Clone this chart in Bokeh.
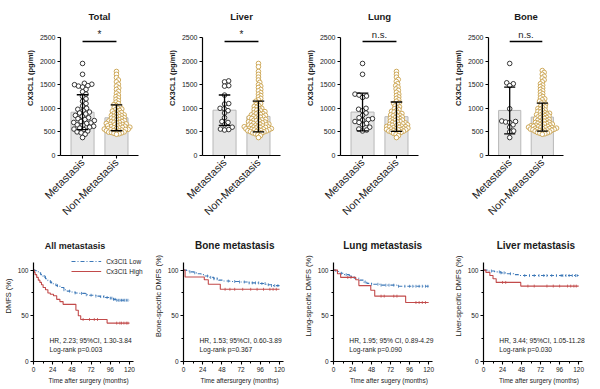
import math
import numpy as np
from bokeh.plotting import figure
from bokeh.models import FixedTicker, Range1d
from bokeh.layouts import row, column
from bokeh.core.properties import value
from bokeh.embed import file_html
from bokeh.resources import INLINE

FONT = "Liberation Sans"

# ------------------------------------------------------------------ data: top row
panel_titles = ["Total", "Liver", "Lung", "Bone"]
group_labels = ["Metastasis", "Non-Metastasis"]
conc_ticks = [0, 500, 1000, 1500, 2000, 2500]
signif = ["*", "*", "n.s.", "n.s."]
mean_met = [917, 960, 920, 955]
sd_met = [370, 322, 400, 495]
mean_non = [799, 827, 822, 814]
sd_non = [275, 327, 311, 297]

total_met = [1950, 1720, 1530, 1510, 1500, 1480, 1470, 1450, 1400, 1350, 1300, 1250, 1200,
             1150, 1100, 1050, 1000, 980, 950, 920, 900, 880, 850, 830, 800, 780, 760, 740,
             720, 700, 690, 680, 650, 640, 620, 600, 580, 560, 550, 520, 500, 480, 450, 380]
total_non = [1780, 1720, 1650, 1600, 1560, 1510, 1470, 1430, 1400, 1360, 1320, 1280, 1250,
             1220, 1190, 1160, 1130, 1100, 1080, 1060, 1040, 1020, 1000, 985, 970, 955, 940,
             925, 910, 895, 880, 870, 860, 850, 840, 830, 820, 810, 800, 790, 780, 770, 760,
             750, 740, 730, 720, 715, 705, 700, 690, 680, 670, 660, 655, 650, 640, 630, 625,
             620, 610, 600, 595, 590, 580, 575, 570, 560, 555, 550, 545, 540, 530, 525, 520,
             510, 500, 495, 490, 480, 470, 460, 450]
liver_met = [1580, 1560, 1480, 1470, 1280, 1100, 1090, 1000, 990, 950, 900, 800, 720, 700,
             650, 600, 560, 550, 540]
liver_non = [1950, 1880, 1780, 1720, 1660, 1600, 1550, 1500, 1470, 1440, 1400, 1370, 1330,
             1300, 1270, 1240, 1210, 1180, 1150, 1120, 1100, 1080, 1060, 1040, 1020, 1000,
             990, 975, 960, 945, 930, 915, 900, 890, 880, 870, 860, 850, 840, 830, 820, 810,
             800, 795, 785, 775, 765, 755, 745, 735, 725, 715, 710, 700, 690, 685, 675, 665,
             660, 650, 645, 640, 630, 625, 620, 610, 605, 600, 595, 590, 580, 575, 570, 565,
             560, 555, 550, 545, 540, 530, 525, 520, 510, 505, 500, 490, 480, 470, 460, 440,
             420, 380]
lung_met = [1950, 1720, 1300, 1280, 1260, 1230, 1000, 980, 950, 900, 850, 800, 780, 760,
            750, 720, 700, 680, 650, 600, 560, 540, 520]
lung_non = [1780, 1720, 1660, 1610, 1570, 1520, 1480, 1450, 1410, 1380, 1340, 1300, 1270,
            1240, 1210, 1180, 1150, 1120, 1100, 1080, 1050, 1030, 1010, 990, 970, 950, 935,
            920, 905, 890, 875, 860, 850, 840, 830, 815, 800, 790, 780, 770, 760, 750, 740,
            730, 720, 710, 700, 690, 680, 670, 660, 655, 650, 640, 630, 620, 615, 610, 600,
            595, 590, 580, 575, 570, 560, 555, 550, 545, 540, 530, 520, 515, 510, 500, 490,
            480, 470, 450, 420, 380]
bone_met = [1950, 1540, 1520, 1480, 990, 730, 720, 710, 700, 650, 600, 520, 500, 380]
bone_non = [1800, 1760, 1720, 1680, 1640, 1600, 1560, 1520, 1490, 1460, 1430, 1400, 1370,
            1340, 1310, 1280, 1250, 1220, 1200, 1180, 1150, 1130, 1110, 1090, 1070, 1050,
            1030, 1010, 995, 980, 965, 950, 935, 920, 905, 895, 885, 875, 865, 855, 845, 835,
            825, 815, 805, 795, 785, 775, 765, 755, 745, 735, 725, 715, 705, 700, 690, 680,
            675, 665, 660, 650, 645, 640, 630, 625, 620, 615, 610, 600, 595, 590, 585, 580,
            575, 570, 565, 560, 555, 550, 545, 540, 535, 530, 520, 515, 510, 500, 490, 480,
            470, 460, 450]

met_groups = [total_met, liver_met, lung_met, bone_met]
non_groups = [total_non, liver_non, lung_non, bone_non]

# ------------------------------------------------------------------ data: bottom row
km_titles = ["All metastasis", "Bone metastasis", "Lung metastasis", "Liver metastasis"]
km_ylabels = ["DMFS (%)", "Bone-specific DMFS (%)", "Lung-specific DMFS (%)",
              "Liver-specific DMFS (%)"]
km_xlabels = ["Time after surgery  (months)", "Time aftersurgery (months)",
              "Time after sugery (months)", "Time after surgery (months)"]
km_hr = ["HR, 2.23; 95%CI, 1.30-3.84", "HR, 1.53; 95%CI, 0.60-3.89",
         "HR, 1.95; 95% CI, 0.89-4.29", "HR, 3.44; 95%CI, 1.05-11.28"]
km_p = ["Log-rank p=0.003", "Log-rank p=0.367", "Log-rank p=0.090", "Log-rank p=0.030"]
series_names = ["Cx3Cl1 Low", "Cx3Cl1 High"]
followup_end = 120
month_ticks = [0, 24, 48, 72, 96, 120]
month_minor = [12, 36, 60, 84, 108]
pct_ticks = [0, 50, 100]
pct_minor = [25, 75]

all_low_t = [0, 2, 4, 6, 9, 12, 15, 18, 21, 24, 28, 33, 38, 42, 47, 52, 58, 65, 70, 78, 83, 90, 95, 100, 103]
all_low_s = [100, 99.3, 98.5, 97, 95, 93, 90.5, 88.5, 86.5, 85, 83, 81, 78.5, 77, 76, 75, 74.5, 73, 72.5, 71.5, 71, 70, 69.3, 68, 67]
all_low_c = [14, 22, 30, 38, 45, 52, 60, 66, 72, 78, 84, 88, 92, 96, 98, 100, 102, 104, 106, 108, 110, 112, 114, 116, 118]
all_high_t = [0, 1, 2, 4, 6, 8, 10, 12, 15, 18, 21, 25, 29, 33, 37, 53, 56, 59, 92]
all_high_s = [100, 97.5, 95, 92, 89, 86.5, 84, 81, 78.5, 75, 73.5, 72, 68, 65.5, 62.5, 56, 50, 46, 42]
all_high_c = [62, 70, 76, 80, 104, 108, 110, 113, 116, 118]

bone_low_t = [0, 4, 8, 13, 18, 22, 27, 33, 38, 44, 50, 58, 70, 82, 95, 103, 110]
bone_low_s = [100, 99, 98, 97, 96, 95, 93.5, 92, 90.5, 89, 88, 87.5, 87, 86, 85.3, 84, 83]
bone_low_c = [8, 14, 30, 34, 38, 42, 56, 64, 70, 76, 82, 86, 90, 94, 98, 102, 106, 110, 114, 118]
bone_high_t = [0, 2, 26, 31, 46]
bone_high_s = [100, 92.5, 89.5, 84.5, 79]
bone_high_c = [52, 58, 64, 74, 84, 92, 100, 108, 112, 116]

lung_low_t = [0, 3, 8, 14, 20, 26, 33, 38, 42, 48, 60, 80]
lung_low_s = [100, 98.5, 96.5, 95, 93, 91, 89, 87, 85.5, 84.5, 83.5, 82.3]
lung_low_c = [10, 16, 22, 40, 48, 56, 60, 66, 70, 76, 82, 90, 96, 100, 104, 108, 112, 116, 119]
lung_high_t = [0, 5, 9, 28, 32, 47, 52, 91]
lung_high_s = [100, 96, 92, 89.5, 83, 78, 71.5, 64.5]
lung_high_c = [18, 22, 60, 64, 76, 80, 104, 108, 112, 116]

liver_low_t = [0, 6, 14, 22, 30, 38, 44]
liver_low_s = [100, 99, 98, 97, 96, 95, 94]
liver_low_c = [10, 20, 22, 26, 34, 52, 58, 64, 70, 76, 80, 86, 92, 98, 100, 104, 108, 112, 116, 118]
liver_high_t = [0, 3, 8, 12, 16, 47]
liver_high_s = [100, 97.5, 94, 90.5, 86.5, 82.5]
liver_high_c = [24, 28, 56, 64, 80, 88, 96, 106, 110, 114, 117]

km_low = [(all_low_t, all_low_s, all_low_c), (bone_low_t, bone_low_s, bone_low_c),
          (lung_low_t, lung_low_s, lung_low_c), (liver_low_t, liver_low_s, liver_low_c)]
km_high = [(all_high_t, all_high_s, all_high_c), (bone_high_t, bone_high_s, bone_high_c),
           (lung_high_t, lung_high_s, lung_high_c), (liver_high_t, liver_high_s, liver_high_c)]

# ------------------------------------------------------------------ styling / layout
BLUE = "#3d78b8"
RED = "#c24a4a"
GOLD = "#c9a24c"
BAR_FILL = "#e6e6e6"
BAR_LINE = "#b8b8b8"
TEXT = "#1a1a1a"
LOW_DASH = "4 2 1 2"

PANEL_W = 150
TOP_H = 230
TOP_BOTTOM = 75
TOP_FRAME_W = 78
TOP_X = (0.35, 2.65)
TOP_Y = (0, 3284)
top_borders = [(60, 12), (52, 20), (40, 32), (35, 37)]

BOT_H = 158
BOT_BOTTOM = 27
BOT_FRAME_W = 113
BOT_X = (0, 140)
BOT_Y = (0, 143.3)
bot_borders = [32, 32, 31, 31]
km_title_x = [52, 64, 62, 66]
km_title_size = ["9px", "10px", "10px", "10px"]


def swarm(vals, d_px, py_per_val, px_per_x):
    ys = np.asarray(vals, dtype=float) * py_per_val
    order = np.argsort(ys)
    px, py = [], []
    xs = np.zeros(len(ys))
    for i in order:
        y = ys[i]
        cands = [0.0]
        for xj, yj in zip(px, py):
            dy = abs(y - yj)
            if dy < d_px:
                dx = math.sqrt(d_px ** 2 - dy ** 2)
                cands += [xj + dx, xj - dx]
        cands.sort(key=abs)
        chosen = 0.0
        for c in cands:
            if all((c - xj) ** 2 + (y - yj) ** 2 >= d_px ** 2 - 1e-6 for xj, yj in zip(px, py)):
                chosen = c
                break
        xs[i] = chosen
        px.append(chosen)
        py.append(y)
    return xs / px_per_x


def style_axis(ax, label_size):
    ax.axis_line_color = "black"
    ax.axis_line_width = 1.2
    ax.major_tick_line_color = "black"
    ax.major_tick_line_width = 1.1
    ax.major_tick_out = 3
    ax.major_tick_in = 0
    ax.minor_tick_in = 0
    ax.minor_tick_out = 2
    ax.minor_tick_line_color = "black"
    ax.major_label_text_font = FONT
    ax.major_label_text_color = TEXT
    ax.major_label_text_font_size = label_size
    ax.axis_label_text_font = FONT
    ax.axis_label_text_color = TEXT
    ax.major_label_standoff = 2
    ax.axis_label_standoff = 2


def base_fig(bl, br, h, bb, xr, yr):
    p = figure(width=PANEL_W, height=h, x_range=Range1d(*xr), y_range=Range1d(*yr),
               output_backend="svg", toolbar_location=None,
               min_border_left=bl, min_border_right=br,
               min_border_top=0, min_border_bottom=bb)
    p.outline_line_color = None
    p.grid.visible = False
    p.background_fill_color = "white"
    p.border_fill_color = "white"
    return p


def bar_panel(i):
    bl, br = top_borders[i]
    p = base_fig(bl, br, TOP_H, TOP_BOTTOM, TOP_X, TOP_Y)

    px_per_x = TOP_FRAME_W / (TOP_X[1] - TOP_X[0])
    py_per_val = (TOP_H - TOP_BOTTOM) / (TOP_Y[1] - TOP_Y[0])

    means = [mean_met[i], mean_non[i]]
    sds = [sd_met[i], sd_non[i]]
    cats = [1, 2]
    p.vbar(x=cats, top=means, width=0.68, fill_color=BAR_FILL, line_color=BAR_LINE,
           line_width=1)

    for k, (vals, col) in enumerate([(met_groups[i], "#222222"), (non_groups[i], GOLD)]):
        off = swarm(vals, 2.7 if k == 1 else 4.2, py_per_val, px_per_x)
        p.scatter(x=cats[k] + off, y=vals, marker="circle", size=4.6,
                  fill_color="white", line_color=col, line_width=0.9)

    lo = [m - s for m, s in zip(means, sds)]
    hi = [m + s for m, s in zip(means, sds)]
    p.segment(x0=cats, x1=cats, y0=lo, y1=hi, line_color="black", line_width=1.3)
    for yy in (lo, hi):
        p.segment(x0=[c - 0.17 for c in cats], x1=[c + 0.17 for c in cats], y0=yy, y1=yy,
                  line_color="black", line_width=1.3)

    # significance bracket
    p.segment(x0=[cats[0]], x1=[cats[1]], y0=[2415], y1=[2415], line_color="black",
              line_width=1.5)
    p.text(x=[1.5], y=[2440], text=[signif[i]], text_align="center",
           text_baseline="bottom", text_font=value(FONT),
           text_font_size="9.5px" if signif[i] != "*" else "10px", text_color=TEXT)
    # panel title
    p.text(x=[1.5], y=[2955], text=[panel_titles[i]], text_align="center",
           text_baseline="middle", text_font=value(FONT), text_font_style="bold",
           text_font_size="9.5px", text_color=TEXT)

    style_axis(p.yaxis[0], "7px")
    p.yaxis.ticker = FixedTicker(ticks=conc_ticks, minor_ticks=[])
    p.yaxis.bounds = (0, 2500)
    p.yaxis.axis_label = "CX3CL1 (pg/ml)"
    p.yaxis.axis_label_text_font_style = "bold"
    p.yaxis.axis_label_text_font_size = "7.5px"

    style_axis(p.xaxis[0], "10.7px")
    p.xaxis.ticker = FixedTicker(ticks=cats, minor_ticks=[])
    p.xaxis.major_label_overrides = {1: group_labels[0], 2: group_labels[1]}
    p.xaxis.major_label_orientation = math.pi / 4
    return p


def km_panel(i):
    bl = bot_borders[i]
    br = PANEL_W - bl - BOT_FRAME_W
    p = base_fig(bl, br, BOT_H, BOT_BOTTOM, BOT_X, BOT_Y)

    styles = [(km_low[i], BLUE, LOW_DASH), (km_high[i], RED, "solid")]
    for (t, s, c), col, dash in styles:
        tt = list(t) + [followup_end]
        ss = list(s) + [s[-1]]
        p.step(x=tt, y=ss, mode="after", line_color=col, line_width=1.1, line_dash=dash)
        idx = np.searchsorted(np.asarray(t), np.asarray(c), side="right") - 1
        cy = np.asarray(s)[idx]
        p.segment(x0=c, x1=c, y0=cy - 1.6, y1=cy + 1.6, line_color=col, line_width=0.8)

    p.text(x=[20, 20], y=[22.6, 13.6], text=[km_hr[i], km_p[i]], text_align="left",
           text_baseline="middle", text_font=value(FONT), text_font_size="6.7px",
           text_color=TEXT)
    p.text(x=[km_title_x[i]], y=[126.6], text=[km_titles[i]], text_align="center",
           text_baseline="middle", text_font=value(FONT), text_font_style="bold",
           text_font_size=km_title_size[i], text_color=TEXT)

    if i == 0:
        # key: sample line + label for each series
        key_y = [109.4, 98.5]
        p.segment(x0=[47.5], x1=[84.6], y0=[key_y[0]], y1=[key_y[0]],
                  line_color=BLUE, line_width=1.1, line_dash=LOW_DASH)
        p.segment(x0=[47.5], x1=[84.6], y0=[key_y[1]], y1=[key_y[1]],
                  line_color=RED, line_width=1.1)
        p.text(x=[90.8, 90.8], y=key_y, text=series_names, text_align="left",
               text_baseline="middle", text_font=value(FONT), text_font_size="6.5px",
               text_color=TEXT)

    style_axis(p.yaxis[0], "6.5px")
    p.yaxis.ticker = FixedTicker(ticks=pct_ticks, minor_ticks=pct_minor)
    p.yaxis.bounds = (0, 108)
    p.yaxis.axis_label = km_ylabels[i]
    p.yaxis.axis_label_text_font_size = "7.5px"
    p.yaxis.axis_label_text_font_style = "normal"

    style_axis(p.xaxis[0], "6.5px")
    p.xaxis.ticker = FixedTicker(ticks=month_ticks, minor_ticks=month_minor)
    p.xaxis.bounds = (0, 125)
    p.xaxis.axis_label = km_xlabels[i]
    p.xaxis.axis_label_text_font_size = "6.5px"
    p.xaxis.axis_label_text_font_style = "normal"
    return p


top = row(*[bar_panel(i) for i in range(4)])
bottom = row(*[km_panel(i) for i in range(4)])
layout = column(top, bottom)

open("out.html", "w").write(file_html(layout, INLINE))
